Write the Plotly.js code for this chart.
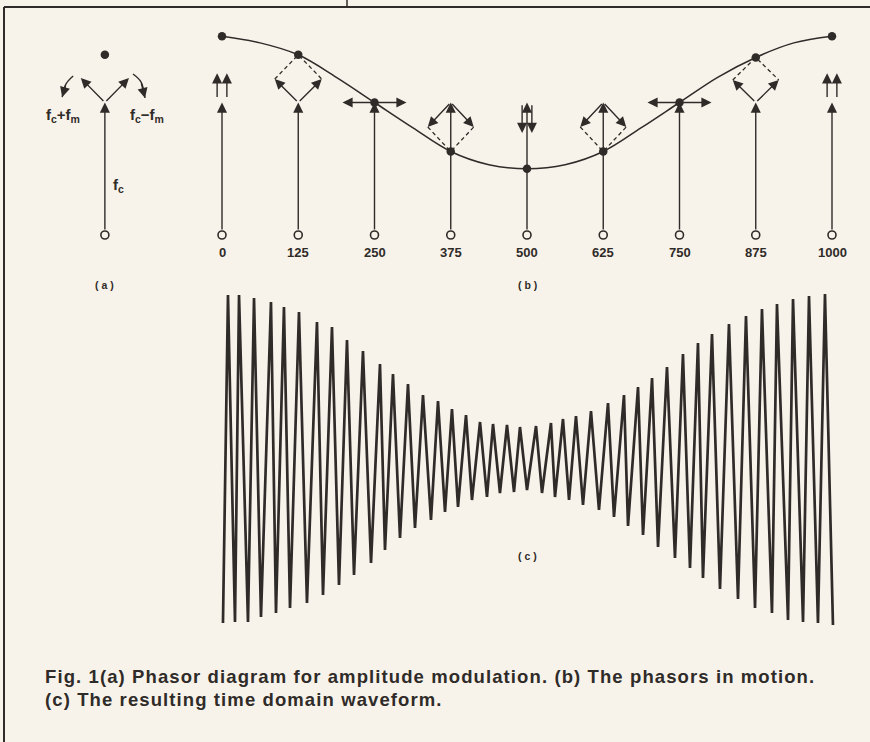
<!DOCTYPE html>
<html>
<head>
<meta charset="utf-8">
<script src="https://cdn.plot.ly/plotly-3.0.1.min.js"></script>
<style>html,body{margin:0;padding:0;background:#f8f3ea;}#chart{width:870px;height:742px;}</style>
</head>
<body>
<div id="chart"></div>
<script>
// ---------- DATA ----------
// (b) phasors in motion: time instants and their labels
const times = [0, 125, 250, 375, 500, 625, 750, 875, 1000];
const timeLabels = ['0', '125', '250', '375', '500', '625', '750', '875', '1000'];
// resultant (envelope) amplitude at each instant, carrier = 1
const envelope = [1.50, 1.36, 1.00, 0.63, 0.50, 0.63, 1.00, 1.34, 1.50];
// envelope curve, read at finer steps
const envCurveT = [0, 62.5, 125, 187.5, 250, 312.5, 375, 437.5, 500, 562.5, 625, 687.5, 750, 812.5, 875, 937.5, 1000];
const envCurveV = [1.50, 1.45, 1.36, 1.19, 1.00, 0.81, 0.63, 0.53, 0.50, 0.53, 0.63, 0.81, 1.00, 1.19, 1.34, 1.45, 1.50];
// carrier phasor tip
const carrierTip = [1, 1, 1, 1, 1, 1, 1, 1, 1];
// sideband phasors: horizontal offset of tip (time units), tail offset, tail and tip heights
const sbDx = [8, 38.5, 52.5, 37.7, 8, 37.7, 52.5, 37.7, 8];
const sbTailDx = [8, 0, 0, 0, 8, 0, 0, 0, 8];
const sbTailY = [1.03, 1.0, 1.0, 1.0, 0.99, 1.0, 1.0, 1.0, 1.03];
const sbTipY = [1.22, 1.177, 1.0, 0.815, 0.77, 0.815, 1.0, 1.17, 1.22];
const diamondIdx = [1, 3, 5, 7];

// (a) phasor diagram
const aX = -192;
const aCarrier = 1.0;
const aResultant = 1.36;
const aSbDx = 39.5;
const aSbTipY = 1.185;
const aArcLeftX = [-244, -255.7, -262];
const aArcLeftY = [1.20, 1.14, 1.04];
const aArcRightX = [-145.9, -132.8, -126.2];
const aArcRightY = [1.215, 1.155, 1.034];

// (c) resulting waveform: troughs and peaks
const troughT = [1.6, 21.3, 42.6, 63.9, 88.5, 111.5, 139.3, 165.6, 191.8, 216.4, 244.3, 267.2, 291.8, 316.4, 342.6, 365.6, 386.9, 409.8, 434.4, 455.7, 478.7, 500, 524.6, 545.9, 568.9, 591.8, 618.0, 642.6, 665.6, 690.2, 714.8, 742.6, 767.2, 788.5, 816.4, 845.9, 873.8, 901.6, 927.9, 952.5, 977.0, 1001.6];
const troughV = [-1.64, -1.63, -1.63, -1.58, -1.54, -1.49, -1.44, -1.36, -1.26, -1.16, -1.04, -0.91, -0.79, -0.69, -0.61, -0.53, -0.48, -0.41, -0.38, -0.34, -0.33, -0.31, -0.34, -0.38, -0.41, -0.46, -0.51, -0.58, -0.67, -0.76, -0.88, -0.99, -1.09, -1.19, -1.30, -1.40, -1.49, -1.54, -1.61, -1.63, -1.64, -1.66];
const peakT = [9.8, 27.9, 52.5, 80.3, 101.6, 126.2, 155.7, 180.3, 204.9, 231.1, 259.0, 280.3, 304.9, 329.5, 354.1, 377.0, 400.0, 423.0, 444.3, 467.2, 488.5, 514.8, 539.3, 559.0, 580.3, 604.9, 632.8, 659.0, 682.0, 705.0, 729.5, 755.7, 780.3, 803.3, 831.1, 859.0, 885.2, 909.8, 936.1, 962.3, 988.5];
const peakV = [1.64, 1.64, 1.61, 1.57, 1.52, 1.47, 1.37, 1.32, 1.19, 1.08, 0.95, 0.85, 0.75, 0.64, 0.58, 0.50, 0.44, 0.37, 0.35, 0.34, 0.32, 0.33, 0.36, 0.40, 0.43, 0.48, 0.56, 0.64, 0.72, 0.81, 0.92, 1.05, 1.16, 1.25, 1.35, 1.43, 1.50, 1.55, 1.60, 1.63, 1.65];

const captionLines = [
  'Fig. 1(a) Phasor diagram for amplitude modulation. (b) The phasors in motion.',
  '(c) The resulting time domain waveform.'
];

// ---------- BUILD ----------
const BG = '#f8f3ea';
const INK = '#2f2b29';
const FONT = 'Liberation Sans, Arial, sans-serif';

// interleave waveform vertices
const waveX = [], waveY = [];
for (let i = 0; i < troughT.length; i++) {
  waveX.push(troughT[i]); waveY.push(troughV[i]);
  if (i < peakT.length) { waveX.push(peakT[i]); waveY.push(peakV[i]); }
}

// dashed diamond completions
const dashX = [], dashY = [];
diamondIdx.forEach(i => {
  const t = times[i];
  dashX.push(t - sbDx[i], t, t + sbDx[i], null);
  dashY.push(sbTipY[i], envelope[i], sbTipY[i], null);
});

const traces = [
  { x: waveX, y: waveY, yaxis: 'y2', mode: 'lines', line: { color: INK, width: 2.7 }, hoverinfo: 'skip' },
  { x: envCurveT, y: envCurveV, mode: 'lines', line: { color: INK, width: 1.5, shape: 'spline', smoothing: 1 }, hoverinfo: 'skip' },
  { x: dashX, y: dashY, mode: 'lines', line: { color: INK, width: 1.3, dash: '4px,3px' }, hoverinfo: 'skip' },
  { x: aArcLeftX, y: aArcLeftY, mode: 'lines', line: { color: INK, width: 1.4, shape: 'spline' }, hoverinfo: 'skip' },
  { x: aArcRightX, y: aArcRightY, mode: 'lines', line: { color: INK, width: 1.4, shape: 'spline' }, hoverinfo: 'skip' },
  { x: times.concat([aX]), y: envelope.concat([aResultant]), mode: 'markers', marker: { color: INK, size: 8.5 }, hoverinfo: 'skip' },
  { x: times.concat([aX]), y: times.map(() => 0).concat([0]), mode: 'markers',
    marker: { color: BG, size: 8, line: { color: INK, width: 1.6 } }, hoverinfo: 'skip' }
];

function arrow(x0, y0, x1, y1, startStandoff) {
  return { x: x1, y: y1, ax: x0, ay: y0, xref: 'x', yref: 'y', axref: 'x', ayref: 'y',
    showarrow: true, arrowhead: 2, arrowsize: 1.45, arrowwidth: 1.4, arrowcolor: INK,
    text: '', standoff: 0, startstandoff: startStandoff || 0 };
}

const annotations = [];
// carrier stems
times.forEach((t, i) => annotations.push(arrow(t, 0, t, carrierTip[i], 4)));
annotations.push(arrow(aX, 0, aX, aCarrier, 4));
// sidebands
times.forEach((t, i) => {
  annotations.push(arrow(t - sbTailDx[i], sbTailY[i], t - sbDx[i], sbTipY[i]));
  annotations.push(arrow(t + sbTailDx[i], sbTailY[i], t + sbDx[i], sbTipY[i]));
});
annotations.push(arrow(aX, aCarrier, aX - aSbDx, aSbTipY));
annotations.push(arrow(aX, aCarrier, aX + aSbDx, aSbTipY));
// rotation arrowheads in (a)
annotations.push(arrow(aArcLeftX[1], aArcLeftY[1], aArcLeftX[2], aArcLeftY[2]));
annotations.push(arrow(aArcRightX[1], aArcRightY[1], aArcRightX[2], aArcRightY[2]));

function label(text, x, y, size, yref) {
  return { text: text, x: x, y: y, xref: 'x', yref: yref || 'y', showarrow: false,
    font: { family: FONT, size: size, color: INK, weight: 'bold' }, xanchor: 'center', yanchor: 'middle' };
}
// time tick labels
times.forEach((t, i) => annotations.push(label(timeLabels[i], t, -0.13, 13)));
annotations.push(label('f<sub>c</sub>+f<sub>m</sub>', -260, 0.90, 15));
annotations.push(label('f<sub>c</sub>−f<sub>m</sub>', -123, 0.90, 15));
annotations.push(label('f<sub>c</sub>', -170, 0.37, 15));
annotations.push(label('( a )', aX, -0.38, 10.5));
annotations.push(label('( b )', 500, -0.38, 10.5));
annotations.push(label('( c )', 500, -0.97, 10.5, 'y2'));

// caption (slightly tracked out like the printed original)
const CAPFONT = { family: 'Liberation Sans, Arial, sans-serif', size: 18.5, color: INK, weight: 'bold' };
const capY = [1 - 676 / 742, 1 - 699 / 742];
captionLines.forEach((line, i) => annotations.push({
  text: '<span style="letter-spacing:1.1px">' + line + '</span>',
  xref: 'paper', yref: 'paper', x: 43 / 870, y: capY[i], xanchor: 'left', yanchor: 'middle', showarrow: false,
  font: CAPFONT }));

const shapes = [
  { type: 'line', xref: 'paper', yref: 'paper', x0: 4 / 870, x1: 4 / 870, y0: 0, y1: 1 - 7 / 742, line: { color: INK, width: 2 } },
  { type: 'line', xref: 'paper', yref: 'paper', x0: 4 / 870, x1: 1, y0: 1 - 7 / 742, y1: 1 - 7 / 742, line: { color: INK, width: 2 } },
  { type: 'line', xref: 'paper', yref: 'paper', x0: 347 / 870, x1: 347 / 870, y0: 1 - 7 / 742, y1: 1, line: { color: INK, width: 1.5 } }
];

const hidden = { showgrid: false, zeroline: false, showticklabels: false, showline: false, ticks: '', fixedrange: true };
const layout = {
  width: 870, height: 742,
  margin: { l: 0, r: 0, t: 0, b: 0 },
  paper_bgcolor: BG, plot_bgcolor: BG,
  showlegend: false,
  xaxis: Object.assign({ range: [-363.93, 1062.30] }, hidden),
  yaxis: Object.assign({ range: [-3.8264, 1.7736] }, hidden),
  yaxis2: Object.assign({ range: [-2.83, 4.59], overlaying: 'y' }, hidden),
  annotations: annotations,
  shapes: shapes
};

Plotly.newPlot('chart', traces, layout, { staticPlot: true, displayModeBar: false });
</script>
</body>
</html>
